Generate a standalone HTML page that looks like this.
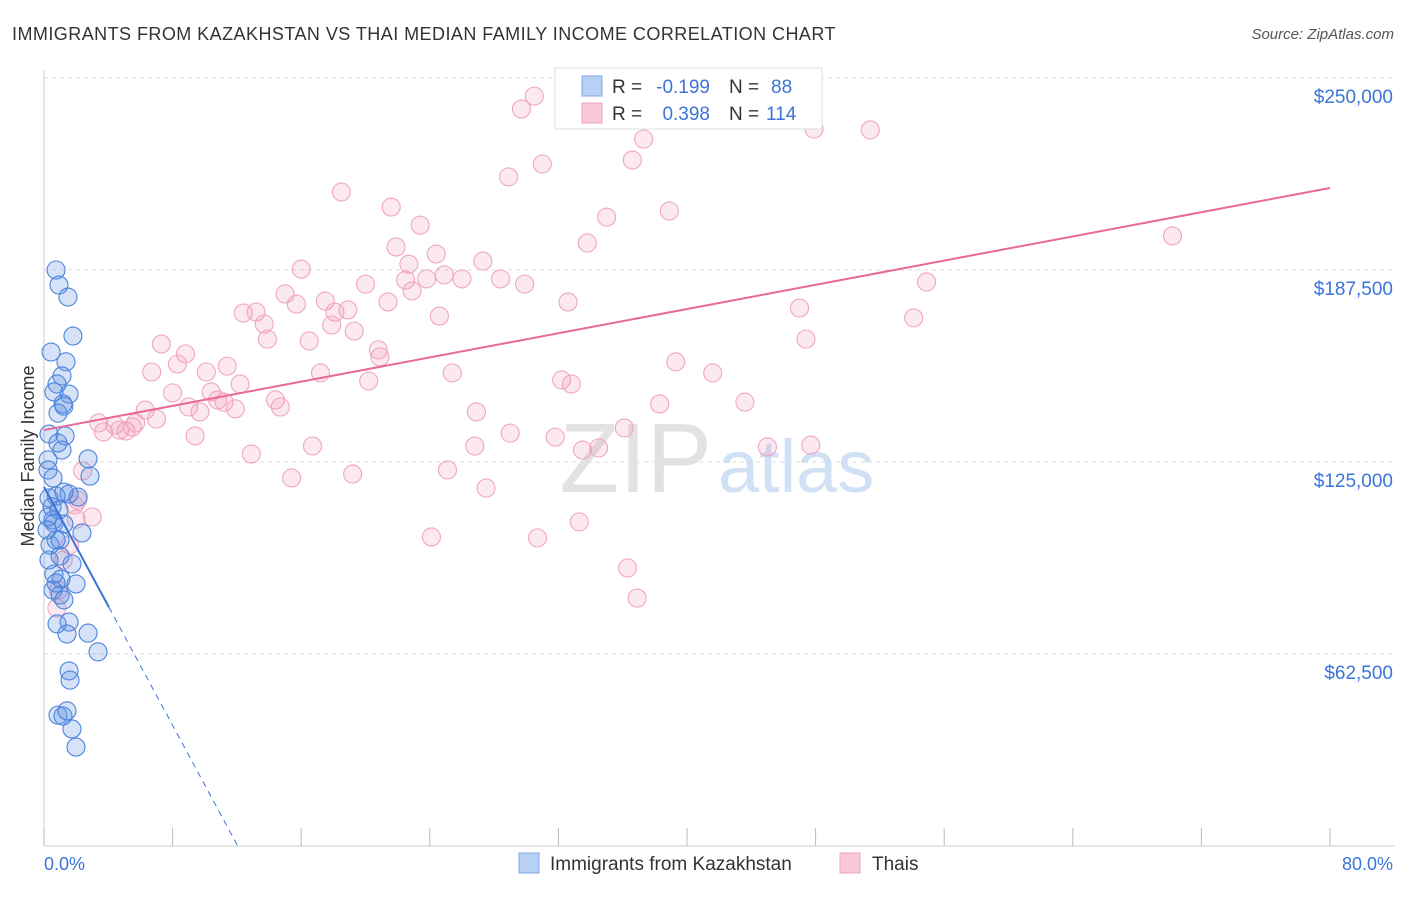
<!DOCTYPE html>
<html><head><meta charset="utf-8"><style>
body{margin:0;background:#fff;font-family:"Liberation Sans",sans-serif;}
svg text{font-family:"Liberation Sans",sans-serif;}
</style></head><body>
<svg id="chart" width="1406" height="892" xmlns="http://www.w3.org/2000/svg">
<text x="12" y="40" font-size="18" fill="#333" letter-spacing="0.45">IMMIGRANTS FROM KAZAKHSTAN VS THAI MEDIAN FAMILY INCOME CORRELATION CHART</text>
<text x="1394" y="39" font-size="15" fill="#555" text-anchor="end" font-style="italic">Source: ZipAtlas.com</text>
<g id="grid"></g>
<text x="712" y="492" font-size="98" fill="#e2e2e2" text-anchor="end" font-family="Liberation Serif">ZIP</text>
<text x="718" y="492" font-size="74" fill="#d0e0f5">atlas</text>
<g id="marks"></g>
<text transform="translate(34,456) rotate(-90)" font-size="18" fill="#333" text-anchor="middle">Median Family Income</text>
<text x="44" y="870" font-size="18" fill="#3a74d8">0.0%</text>
<text x="1393" y="870" font-size="18" fill="#3a74d8" text-anchor="end">80.0%</text>
<g>
<rect x="555" y="68" width="267" height="61" fill="#fff" stroke="#ddd"/>
<rect x="582" y="76" width="20" height="20" fill="#b8d0f4" stroke="#7fa8e8"/>
<rect x="582" y="103" width="20" height="20" fill="#f8c8d8" stroke="#f0a0bc"/>
<text x="612" y="93" font-size="19" fill="#333">R =</text>
<text x="710" y="93" font-size="19" fill="#3a74d8" text-anchor="end">-0.199</text>
<text x="729" y="93" font-size="19" fill="#333">N =</text>
<text x="771" y="93" font-size="19" fill="#3a74d8">88</text>
<text x="612" y="120" font-size="19" fill="#333">R =</text>
<text x="710" y="120" font-size="19" fill="#3a74d8" text-anchor="end">0.398</text>
<text x="729" y="120" font-size="19" fill="#333">N =</text>
<text x="766" y="120" font-size="19" fill="#3a74d8">114</text>
</g>
<g>
<rect x="519" y="853" width="20" height="20" fill="#b8d0f4" stroke="#7fa8e8"/>
<text x="550" y="870" font-size="19" fill="#333">Immigrants from Kazakhstan</text>
<rect x="840" y="853" width="20" height="20" fill="#f8c8d8" stroke="#f0a0bc"/>
<text x="872" y="870" font-size="19" fill="#333">Thais</text>
</g>
</svg>
<script>
const yTicks=[62500,125000,187500,250000];
const yTickLabels=["$62,500","$125,000","$187,500","$250,000"];
const xTicks=[0,8,16,24,32,40,48,56,64,72,80];
const blueX=[0.75,0.93,1.49,1.8,0.44,1.37,1.12,0.81,1.56,0.62,1.18,1.24,0.87,0.31,1.31,0.87,1.12,2.74,2.86,0.25,0.25,0.56,1.24,1.56,0.75,2.12,0.31,0.5,0.56,0.93,0.25,0.62,1.24,2.36,0.75,0.37,1.0,0.31,1.74,0.62,1.06,0.75,1.99,0.56,1.0,1.24,1.56,0.81,1.43,2.74,3.36,1.56,1.62,0.87,1.18,1.43,1.74,1.99,0.19,1.0];
const blueY=[187.5,182.6,178.7,166,160.8,157.6,153,150.4,147.1,147.8,143.9,143.2,140.9,134.1,133.5,131.2,128.9,126,120.4,125.7,122.4,119.8,115.2,114.6,113.9,113.6,113.3,110.4,106.1,109.4,107.1,105.1,104.8,101.9,99.6,98,94.4,93.1,91.8,88.5,86.9,85.6,85.3,83.3,81.7,80.1,72.9,72.3,69,69.3,63.2,57,54,42.6,42.3,44,38.1,32.2,102.9,99.6];
const pinkX=[30.5,29.7,28.9,31.0,18.5,21.6,23.4,21.9,22.7,22.5,22.9,23.8,24.9,26.0,27.3,28.4,29.9,20.0,21.4,19.3,20.8,20.9,16.0,15.0,15.7,17.5,18.1,18.9,17.9,16.5,17.2,20.2,12.4,13.2,13.7,13.9,7.3,8.8,8.3,6.7,10.1,11.4,12.2,8.0,9.0,9.7,10.4,10.8,11.2,11.9,14.4,14.7,6.3,7.0,3.4,3.7,4.4,4.7,5.1,5.5,5.7,9.4,12.9,16.7,15.4,19.2,24.1,25.1,26.8,26.9,27.5,29.0,30.7,31.8,33.5,33.3,34.5,36.1,36.3,36.9,25.4,32.2,32.8,32.6,33.8,35.0,36.6,37.3,38.9,38.3,39.3,41.6,43.6,45.0,47.7,47.0,47.4,47.9,51.4,54.1,54.9,70.2,24.6,2.4,2.1,2.0,3.0,1.6,1.2,0.9,0.8,1.9,24.4];
const pinkY=[244.1,239.9,217.8,222,212.9,208,202.1,195,189.4,184.2,180.7,184.6,185.9,184.6,190.4,184.6,182.9,182.9,177.1,167.6,161.5,159.2,187.8,179.7,176.4,177.4,173.8,174.5,169.6,164.4,154,151.4,173.5,173.8,169.9,165,163.4,160.2,156.9,154.3,154.3,156.2,150.4,147.5,142.9,141.3,147.8,145.2,144.5,142.3,145.2,142.9,141.9,139,137.7,134.8,137,135.4,135.1,136.4,137.7,133.5,127.6,130.2,119.8,121.1,100.6,122.4,130.2,141.3,116.5,134.4,100.3,133.1,128.9,105.5,129.6,136.1,90.5,80.7,154,151.7,150.4,177.1,196.3,204.7,223.3,230.1,206.7,143.9,157.6,154,144.5,129.9,130.5,175.1,165,233.4,233.1,171.9,183.6,198.6,172.5,122.1,112.6,106.4,107.1,98,93.1,83.3,77.5,111,192.7];
const blueTrend=[116.9,-9.7];
const pinkTrend=[135.4,0.985];
const NS="http://www.w3.org/2000/svg";
const xS=p=>44+p*16.075;
const yS=v=>846-v*384/125000;
function mk(tag,attrs,parent){const e=document.createElementNS(NS,tag);for(const k in attrs)e.setAttribute(k,attrs[k]);parent.appendChild(e);return e;}
const grid=document.getElementById('grid'),marks=document.getElementById('marks');
mk('line',{x1:44,y1:70,x2:44,y2:846,stroke:'#ccc'},grid);
mk('line',{x1:44,y1:846,x2:1395,y2:846,stroke:'#ccc'},grid);
yTicks.forEach((t,i)=>{
 const g=mk('line',{x1:44,y1:yS(t),x2:1395,y2:yS(t),stroke:'#ddd','stroke-dasharray':'4,4'},grid);
 
 
 const tx=mk('text',{x:1393,y:yS(t)+25,'font-size':19,fill:'#3a74d8','text-anchor':'end'},grid);
 tx.textContent=yTickLabels[i];
 
 
});
xTicks.forEach(t=>{
 const l=mk('line',{x1:xS(t),y1:828,x2:xS(t),y2:846,stroke:'#bbb'},grid);
 
 
});
pinkX.forEach((x,i)=>{
 const c=mk('circle',{cx:xS(x),cy:yS(pinkY[i]*1000),r:9,fill:'rgba(242,150,182,0.22)',stroke:'#f0a6c0','stroke-width':1.1},marks);
 
 
});
blueX.forEach((x,i)=>{
 const c=mk('circle',{cx:xS(x),cy:yS(blueY[i]*1000),r:9,fill:'rgba(90,140,225,0.25)',stroke:'#4a84dc','stroke-width':1.1},marks);
 
 
});
const bv=p=>(blueTrend[0]+blueTrend[1]*p)*1000;
const bEnd=-blueTrend[0]/blueTrend[1];
const bd=mk('line',{x1:xS(4.04),y1:yS(bv(4.04)),x2:xS(bEnd),y2:yS(0),stroke:'#3a74d8','stroke-width':1,'stroke-dasharray':'6,5'},marks);


const bs=mk('line',{x1:xS(0),y1:yS(bv(0)),x2:xS(4.04),y2:yS(bv(4.04)),stroke:'#3a74d8','stroke-width':2},marks);


const pv=p=>(pinkTrend[0]+pinkTrend[1]*p)*1000;
const pl=mk('line',{x1:xS(0),y1:yS(pv(0)),x2:xS(80),y2:yS(pv(80)),stroke:'#e8689a','stroke-width':2},marks);


</script>
</body></html>
